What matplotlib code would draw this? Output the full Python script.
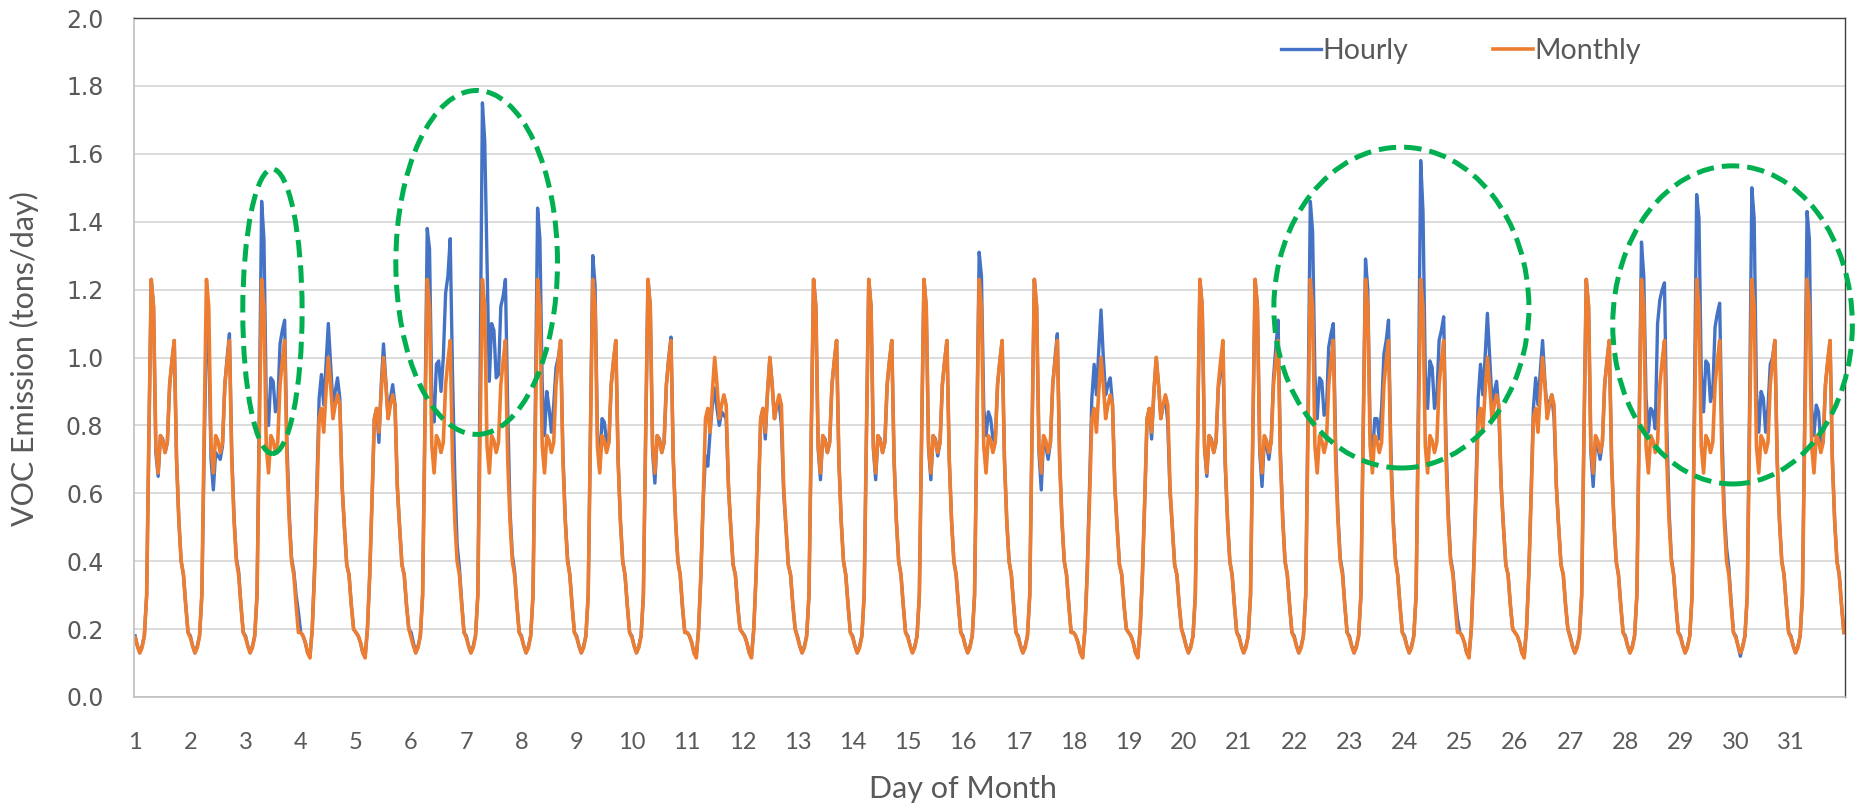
import numpy as np
import matplotlib
matplotlib.use("Agg")
import matplotlib.pyplot as plt
from matplotlib.patches import Ellipse

# monthly-average daily profiles (tons/day), hour 0..23
WEEKDAY = [0.175, 0.15, 0.13, 0.145, 0.18, 0.30, 0.78, 1.23, 1.15, 0.74, 0.66, 0.77,
           0.755, 0.72, 0.75, 0.92, 0.99, 1.05, 0.70, 0.52, 0.40, 0.36, 0.27, 0.19]
WEEKEND = [0.19, 0.18, 0.16, 0.13, 0.115, 0.20, 0.36, 0.58, 0.82, 0.85, 0.78, 0.90,
           1.00, 0.92, 0.82, 0.86, 0.89, 0.86, 0.62, 0.50, 0.39, 0.36, 0.27, 0.20]
DAY_TYPES = "WWWSSWWWWWSSWWWWWSSWWWWWSSWWWWW"

# hourly emissions, one row per day of month
HOURLY = [
    [0.18, 0.15, 0.13, 0.15, 0.18, 0.30, 0.78, 1.23, 1.15, 0.72, 0.65, 0.77, 0.76, 0.72, 0.75, 0.92, 0.99, 1.05, 0.70, 0.52, 0.40, 0.36, 0.27, 0.19],
    [0.18, 0.15, 0.13, 0.15, 0.18, 0.30, 0.72, 1.09, 1.05, 0.70, 0.61, 0.72, 0.71, 0.70, 0.74, 0.92, 1.00, 1.07, 0.72, 0.53, 0.41, 0.37, 0.27, 0.19],
    [0.18, 0.15, 0.13, 0.15, 0.18, 0.30, 0.85, 1.46, 1.35, 0.88, 0.80, 0.94, 0.93, 0.84, 0.86, 1.04, 1.08, 1.11, 0.75, 0.54, 0.41, 0.37, 0.30, 0.25],
    [0.19, 0.18, 0.16, 0.13, 0.12, 0.20, 0.38, 0.62, 0.88, 0.95, 0.86, 0.98, 1.10, 0.98, 0.86, 0.90, 0.94, 0.88, 0.62, 0.50, 0.39, 0.36, 0.27, 0.20],
    [0.19, 0.18, 0.16, 0.13, 0.12, 0.20, 0.36, 0.58, 0.82, 0.85, 0.75, 0.92, 1.04, 0.93, 0.82, 0.88, 0.92, 0.86, 0.62, 0.50, 0.39, 0.36, 0.27, 0.20],
    [0.19, 0.16, 0.13, 0.15, 0.18, 0.30, 0.82, 1.38, 1.32, 0.88, 0.81, 0.98, 0.99, 0.90, 1.00, 1.19, 1.24, 1.35, 0.95, 0.65, 0.45, 0.38, 0.28, 0.19],
    [0.18, 0.15, 0.13, 0.15, 0.18, 0.30, 0.95, 1.75, 1.64, 1.28, 0.93, 1.10, 1.08, 0.94, 0.95, 1.15, 1.18, 1.23, 0.85, 0.55, 0.42, 0.37, 0.27, 0.19],
    [0.18, 0.15, 0.13, 0.15, 0.18, 0.30, 0.85, 1.44, 1.35, 0.92, 0.77, 0.90, 0.85, 0.78, 0.86, 0.97, 1.00, 1.05, 0.72, 0.53, 0.41, 0.36, 0.27, 0.19],
    [0.18, 0.15, 0.13, 0.15, 0.18, 0.30, 0.80, 1.30, 1.21, 0.78, 0.67, 0.82, 0.81, 0.75, 0.75, 0.92, 0.99, 1.05, 0.70, 0.52, 0.40, 0.36, 0.27, 0.19],
    [0.18, 0.15, 0.13, 0.15, 0.18, 0.30, 0.78, 1.23, 1.15, 0.72, 0.63, 0.77, 0.76, 0.72, 0.75, 0.92, 1.00, 1.06, 0.70, 0.52, 0.40, 0.36, 0.26, 0.19],
    [0.19, 0.18, 0.16, 0.13, 0.12, 0.20, 0.36, 0.58, 0.71, 0.68, 0.78, 0.86, 0.91, 0.85, 0.80, 0.84, 0.83, 0.82, 0.62, 0.50, 0.39, 0.36, 0.27, 0.20],
    [0.19, 0.18, 0.16, 0.13, 0.12, 0.20, 0.36, 0.58, 0.82, 0.85, 0.76, 0.90, 1.00, 0.92, 0.82, 0.86, 0.87, 0.80, 0.60, 0.50, 0.39, 0.36, 0.27, 0.20],
    [0.18, 0.15, 0.13, 0.15, 0.18, 0.30, 0.78, 1.23, 1.15, 0.73, 0.64, 0.77, 0.76, 0.72, 0.75, 0.92, 0.99, 1.05, 0.70, 0.52, 0.40, 0.36, 0.27, 0.19],
    [0.18, 0.15, 0.13, 0.15, 0.18, 0.30, 0.78, 1.23, 1.15, 0.73, 0.64, 0.77, 0.76, 0.72, 0.75, 0.92, 0.99, 1.05, 0.70, 0.52, 0.40, 0.36, 0.27, 0.19],
    [0.18, 0.15, 0.13, 0.15, 0.18, 0.30, 0.78, 1.23, 1.15, 0.73, 0.64, 0.77, 0.76, 0.71, 0.75, 0.92, 0.99, 1.05, 0.70, 0.52, 0.40, 0.36, 0.27, 0.19],
    [0.18, 0.15, 0.13, 0.15, 0.18, 0.30, 0.80, 1.31, 1.24, 0.85, 0.77, 0.84, 0.82, 0.76, 0.75, 0.92, 0.99, 1.05, 0.70, 0.52, 0.40, 0.36, 0.27, 0.19],
    [0.18, 0.15, 0.13, 0.15, 0.18, 0.30, 0.78, 1.23, 1.15, 0.72, 0.61, 0.76, 0.74, 0.70, 0.75, 0.92, 1.00, 1.07, 0.70, 0.52, 0.40, 0.36, 0.27, 0.19],
    [0.19, 0.18, 0.16, 0.13, 0.12, 0.20, 0.38, 0.62, 0.88, 0.98, 0.89, 1.02, 1.14, 1.00, 0.89, 0.92, 0.94, 0.86, 0.62, 0.50, 0.39, 0.36, 0.27, 0.20],
    [0.19, 0.18, 0.16, 0.13, 0.12, 0.20, 0.36, 0.58, 0.82, 0.85, 0.76, 0.90, 1.00, 0.92, 0.82, 0.86, 0.88, 0.81, 0.60, 0.50, 0.39, 0.36, 0.27, 0.20],
    [0.18, 0.15, 0.13, 0.15, 0.18, 0.30, 0.78, 1.23, 1.15, 0.73, 0.65, 0.77, 0.76, 0.72, 0.75, 0.91, 0.96, 1.00, 0.68, 0.52, 0.40, 0.36, 0.27, 0.19],
    [0.18, 0.15, 0.13, 0.15, 0.18, 0.30, 0.78, 1.23, 1.15, 0.72, 0.62, 0.76, 0.74, 0.70, 0.76, 0.94, 1.03, 1.11, 0.72, 0.53, 0.40, 0.36, 0.27, 0.19],
    [0.18, 0.15, 0.13, 0.15, 0.18, 0.30, 0.85, 1.46, 1.37, 0.95, 0.82, 0.94, 0.93, 0.83, 0.84, 1.03, 1.07, 1.10, 0.75, 0.54, 0.41, 0.37, 0.27, 0.19],
    [0.18, 0.15, 0.13, 0.15, 0.18, 0.30, 0.80, 1.29, 1.20, 0.78, 0.70, 0.82, 0.82, 0.76, 0.85, 1.01, 1.05, 1.11, 0.74, 0.53, 0.41, 0.36, 0.27, 0.19],
    [0.18, 0.15, 0.13, 0.15, 0.18, 0.30, 0.88, 1.58, 1.43, 0.95, 0.85, 0.99, 0.97, 0.85, 0.88, 1.05, 1.08, 1.12, 0.75, 0.54, 0.41, 0.37, 0.29, 0.23],
    [0.19, 0.18, 0.16, 0.13, 0.12, 0.20, 0.38, 0.62, 0.88, 0.98, 0.89, 1.00, 1.13, 1.00, 0.87, 0.90, 0.93, 0.84, 0.62, 0.50, 0.39, 0.36, 0.27, 0.20],
    [0.19, 0.18, 0.16, 0.13, 0.12, 0.20, 0.36, 0.60, 0.85, 0.94, 0.86, 0.96, 1.05, 0.93, 0.84, 0.87, 0.89, 0.82, 0.62, 0.50, 0.39, 0.36, 0.27, 0.20],
    [0.18, 0.15, 0.13, 0.15, 0.18, 0.30, 0.78, 1.23, 1.15, 0.72, 0.62, 0.75, 0.74, 0.70, 0.75, 0.92, 0.99, 1.05, 0.70, 0.52, 0.40, 0.36, 0.27, 0.19],
    [0.18, 0.15, 0.13, 0.15, 0.18, 0.30, 0.82, 1.34, 1.24, 0.88, 0.78, 0.85, 0.84, 0.79, 1.10, 1.17, 1.20, 1.22, 0.80, 0.55, 0.41, 0.36, 0.27, 0.19],
    [0.18, 0.15, 0.13, 0.15, 0.18, 0.30, 0.86, 1.48, 1.41, 0.95, 0.84, 0.99, 0.98, 0.87, 0.90, 1.09, 1.13, 1.16, 0.78, 0.55, 0.44, 0.38, 0.28, 0.19],
    [0.18, 0.15, 0.12, 0.15, 0.18, 0.30, 0.86, 1.50, 1.41, 0.90, 0.78, 0.90, 0.88, 0.78, 0.85, 0.98, 1.00, 1.05, 0.70, 0.52, 0.40, 0.36, 0.27, 0.19],
    [0.18, 0.15, 0.13, 0.15, 0.18, 0.30, 0.84, 1.43, 1.35, 0.85, 0.77, 0.86, 0.84, 0.75, 0.75, 0.92, 0.99, 1.05, 0.70, 0.52, 0.40, 0.36, 0.27, 0.19],
]

# highlighted periods: (centre hour, centre value, width in hours, height)
HIGHLIGHTS = [
    (59.7, 1.136, 25.8, 0.838),
    (148.5, 1.28, 70.3, 1.013),
    (550.6, 1.147, 110.9, 0.945),
    (694.6, 1.096, 104.2, 0.937),
]

BLUE = "#4472C4"
ORANGE = "#ED7D31"
GREEN = "#00B050"
TXT = "#595959"

hourly = np.concatenate([np.array(d) for d in HOURLY])
monthly = np.concatenate([np.array(WEEKDAY if t == "W" else WEEKEND) for t in DAY_TYPES])
hours = np.arange(len(hourly))

fig = plt.figure(figsize=(18.58, 8.08), dpi=100)
ax = fig.add_axes([134 / 1858, 1 - 697 / 808, (1845 - 134) / 1858, (697 - 18) / 808])

ax.plot(hours, hourly, color=BLUE, lw=2.4, label="Hourly")
ax.plot(hours, monthly, color=ORANGE, lw=2.6, label="Monthly")

for cx, cy, w, h in HIGHLIGHTS:
    e = Ellipse((cx, cy), w, h, fill=False, edgecolor=GREEN, lw=3.6,
                linestyle=(0, (3.5, 1.6)), clip_on=False, zorder=5)
    ax.add_patch(e)

ax.set_xlim(-0.5, len(hourly) - 0.5)
ax.set_ylim(0, 2.0)
ax.set_yticks(np.arange(0, 2.01, 0.2))
ax.set_yticklabels([f"{v:.1f}" for v in np.arange(0, 2.01, 0.2)],
                   fontsize=17, color=TXT, family="DejaVu Sans")
ax.set_xticks(np.arange(0, 744, 24))
ax.set_xticklabels([str(d) for d in range(1, 32)], fontsize=17, color=TXT, family="Lato")
ax.tick_params(axis="both", length=0)
ax.tick_params(axis="y", pad=22)
ax.tick_params(axis="x", pad=25)

ax.grid(axis="y", color="#D9D9D9", lw=1.3)
ax.set_axisbelow(True)
for s in ["left", "bottom"]:
    ax.spines[s].set_color("#BFBFBF")
    ax.spines[s].set_linewidth(1.2)
for s in ["top", "right"]:
    ax.spines[s].set_color("#404040")
    ax.spines[s].set_linewidth(1.0)

fig.text(24 / 1858, 1 - 359 / 808, "VOC Emission (tons/day)", fontsize=22, color=TXT,
         family="Lato", rotation=90, ha="center", va="center")
fig.text(963 / 1858, 1 - 789 / 808, "Day of Month", fontsize=22, color=TXT, family="Lato",
         ha="center", va="center")

leg = ax.legend(loc="center left", bbox_to_anchor=(0.662, 0.951), ncol=2, frameon=False,
                handlelength=1.4, handletextpad=0.05, columnspacing=3.0, borderpad=0,
                prop={"family": "Lato", "size": 20.5})
for t in leg.get_texts():
    t.set_color(TXT)

fig.savefig("out.png", dpi=100)
